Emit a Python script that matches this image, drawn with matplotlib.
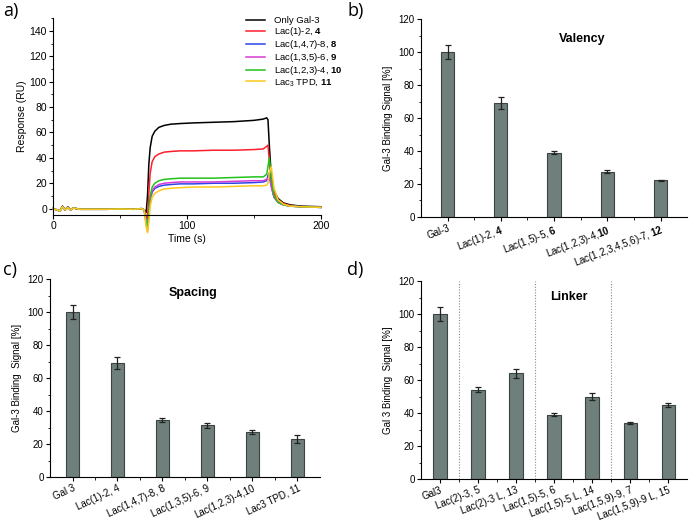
import numpy as np
import matplotlib
matplotlib.use("Agg")
import matplotlib.pyplot as plt
from matplotlib.ticker import MultipleLocator

plt.rcParams['font.family'] = ['Liberation Sans', 'DejaVu Sans']
plt.rcParams['mathtext.fontset'] = 'custom'
plt.rcParams['mathtext.rm'] = 'Liberation Sans'
plt.rcParams['mathtext.bf'] = 'Liberation Sans:bold'
plt.rcParams['mathtext.it'] = 'Liberation Sans:italic'

# ---- panel a: sensorgram ----
time_s = [0, 3, 5, 7, 9, 11, 13, 15, 20, 30, 40, 50, 60, 66, 68, 69.5, 70.5, 71.5,
          72.5, 74, 76, 79, 83, 88, 95, 105, 120, 135, 150, 157, 159.5, 160.5,
          161.5, 163, 165, 168, 172, 177, 185, 200]
resp_gal3 = [0, -1, -2, 2, -1, 1.5, -1, 0.5, -0.5, -0.5, -0.5, -0.3, -0.5, 0, -1, -3, 10, 35,
             48, 57, 61, 64, 65.5, 66.5, 67, 67.5, 68, 68.5, 69.5, 70.5, 71.5, 70,
             50, 25, 14, 8, 4.5, 3, 2, 1.5]
resp_4 = [0, -1, -2, 1.5, -1, 1, -1, 0.5, -0.5, -0.5, -0.5, -0.3, -0.5, 0, -1, -6, -8, 12,
          28, 37, 41, 43, 44.5, 45, 45.5, 45.5, 46, 46, 46.5, 47, 49, 50,
          38, 22, 12, 7, 4, 2.5, 1.5, 1]
resp_8 = [0, -1, -2, 1.5, -1, 1, -1, 0.5, -0.5, -0.5, -0.5, -0.3, -0.5, 0, -1, -10, -15, -5,
          7, 13, 16, 17.5, 18.5, 19, 19.5, 19.5, 20, 20, 20.5, 21, 22, 26,
          28, 18, 9, 5, 3, 2, 1.5, 1]
resp_9 = [0, -1, -2, 1.5, -1, 1, -1, 0.5, -0.5, -0.5, -0.5, -0.3, -0.5, 0, -1, -12, -18, -6,
          8, 14, 17, 19, 20, 20.5, 21, 21, 21, 21.5, 22, 22, 23, 24,
          25, 17, 9, 5, 3, 2, 1.5, 1]
resp_10 = [0, -1, -2, 1.5, -1, 1, -1, 0.5, -0.5, -0.5, -0.5, -0.3, -0.5, 0, -1, -10, -16, -4,
           10, 17, 20, 22, 23, 23.5, 24, 24, 24, 24.5, 25, 25, 27, 33,
           40, 24, 10, 5, 3, 2, 1.5, 1]
resp_11 = [0, -1, -2, 1.5, -1, 1, -1, 0.5, -0.5, -0.5, -0.5, -0.3, -0.5, 0, -1, -14, -19, -10,
           2, 9, 12, 14, 15.5, 16, 16.5, 17, 17, 17.5, 18, 18, 18.5, 20,
           28, 33, 16, 7, 3.5, 2, 1.5, 1]

series_a = [
    ("Only Gal-3", resp_gal3, "#000000"),
    (r"Lac(1)-2, $\mathbf{4}$", resp_4, "#ff1e2d"),
    (r"Lac(1,4,7)-8, $\mathbf{8}$", resp_8, "#2b45e8"),
    (r"Lac(1,3,5)-6, $\mathbf{9}$", resp_9, "#d63bd6"),
    (r"Lac(1,2,3)-4, $\mathbf{10}$", resp_10, "#22c21a"),
    (r"Lac$_3$ TPD, $\mathbf{11}$", resp_11, "#ffc81e"),
]

# ---- panel b: valency ----
labels_b = ["Gal-3", r"Lac(1)-2, $\mathbf{4}$", r"Lac(1,5)-5, $\mathbf{6}$",
            r"Lac(1,2,3)-4,$\mathbf{10}$", r"Lac(1,2,3,4,5,6)-7, $\mathbf{12}$"]
values_b = [100, 69, 39, 27.5, 22.2]
errors_b = [4, 3.5, 1, 1, 0.3]

# ---- panel c: spacing ----
labels_c = ["Gal 3", "Lac(1)-2, 4", "Lac(1,4,7)-8, 8", "Lac(1,3,5)-6, 9",
            "Lac(1,2,3)-4,10", "Lac3 TPD, 11"]
values_c = [100, 69, 34.5, 31.5, 27.5, 23]
errors_c = [4, 3.5, 1, 1.5, 1.3, 2.5]

# ---- panel d: linker ----
labels_d = ["Gal3", "Lac(2)-3, 5", "Lac(2)-3 L, 13", "Lac(1,5)-5, 6",
            "Lac(1,5)-5 L, 14", "Lac(1,5,9)-9, 7", "Lac(1,5,9)-9 L, 15"]
values_d = [100, 54, 64, 39, 50, 34, 45]
errors_d = [4.5, 1.5, 2.5, 1, 2, 0.7, 1.3]

bar_color = "#6f7f7c"
edge_color = "#3a4543"

fig = plt.figure(figsize=(6.9, 5.25), dpi=100)

def style_axes(ax, fs=7):
    ax.spines['top'].set_visible(False)
    ax.spines['right'].set_visible(False)
    ax.spines['left'].set_linewidth(0.8)
    ax.spines['bottom'].set_linewidth(0.8)
    ax.tick_params(axis='both', which='major', direction='out', length=3, width=0.8,
                   labelsize=fs, pad=1.5)
    ax.tick_params(axis='both', which='minor', direction='out', length=1.8, width=0.6)


# panel a
ax_a = fig.add_axes([0.077, 0.5905, 0.388, 0.375])
for name, vals, col in series_a:
    ax_a.plot(time_s, vals, color=col, lw=1.1, label=name, clip_on=False)
ax_a.set_xlim(0, 200)
ax_a.set_ylim(-5, 150)
ax_a.set_xticks([0, 100, 200])
ax_a.set_yticks(range(0, 141, 20))
ax_a.xaxis.set_minor_locator(MultipleLocator(50))
ax_a.yaxis.set_minor_locator(MultipleLocator(10))
style_axes(ax_a, fs=7.5)
ax_a.set_xlabel("Time (s)", fontsize=7.5, labelpad=2)
ax_a.set_ylabel("Response (RU)", fontsize=7.5, labelpad=2)
leg = ax_a.legend(loc='upper left', bbox_to_anchor=(0.72, 1.01), frameon=False,
                  fontsize=6.8, handlelength=2.0, handletextpad=1.0, labelspacing=0.0,
                  borderpad=0, borderaxespad=0)


def bar_panel(rect, labels, values, errors, title, title_xy, ylabel, rot=22):
    ax = fig.add_axes(rect)
    x = np.arange(len(values))
    # bars keep about 13 px width in every panel
    bw = 13.3 / (rect[2] * 690 / len(values))
    ax.bar(x, values, width=bw, color=bar_color, edgecolor=edge_color, linewidth=0.8,
           yerr=errors, error_kw=dict(ecolor="#222222", elinewidth=0.9, capsize=1.9,
                                      capthick=0.9))
    ax.set_xlim(-0.5, len(values) - 0.5)
    ax.set_ylim(0, 120)
    ax.set_yticks(range(0, 121, 20))
    ax.yaxis.set_minor_locator(MultipleLocator(10))
    ax.set_xticks(x)
    ax.set_xticks(x[:-1] + 0.5, minor=True)
    ax.set_xticklabels(labels, rotation=rot, ha='right', rotation_mode='anchor')
    style_axes(ax, fs=7)
    ax.set_ylabel(ylabel, fontsize=7, labelpad=4)
    ax.text(title_xy[0], title_xy[1], title, transform=ax.transAxes, fontsize=9,
            fontweight='bold', ha='center', va='center')
    return ax


bar_panel([0.610, 0.5867, 0.386, 0.377], labels_b, values_b, errors_b,
          "Valency", (0.605, 0.9), "Gal-3 Binding Signal [%]", rot=21)
bar_panel([0.0725, 0.0914, 0.391, 0.377], labels_c, values_c, errors_c,
          "Spacing", (0.53, 0.93), "Gal-3 Binding  Signal [%]", rot=25)
ax_d = bar_panel([0.610, 0.0876, 0.386, 0.377], labels_d, values_d, errors_d,
                 "Linker", (0.556, 0.92), "Gal 3 Binding  Signal [%]", rot=21)
for xv in [0.5, 2.5, 4.5]:
    ax_d.axvline(xv, color="#8a8a8a", lw=0.8, ls=(0, (1, 1.5)))

# panel letters
for lx, ly, s in [(0.004, 0.997, "a)"), (0.503, 0.997, "b)"),
                  (0.004, 0.503, "c)"), (0.503, 0.503, "d)")]:
    fig.text(lx, ly, s, fontsize=13, family=['Open Sans', 'DejaVu Sans'], va='top')

fig.savefig("out.png", dpi=100)
